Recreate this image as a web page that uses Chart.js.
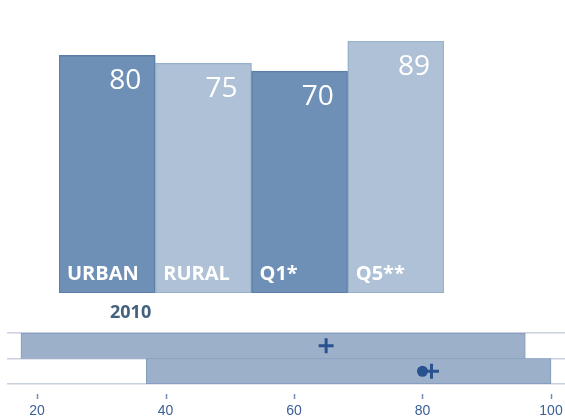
<!DOCTYPE html>
<html>
<head>
<meta charset="utf-8">
<script src="https://cdn.jsdelivr.net/npm/chart.js@4"></script>
<style>
    body { margin: 0; background: #fff; width: 565px; height: 416px; overflow: hidden; }
    canvas { position: absolute; left: 0; }
    #barChart { top: 0; }
    #rangeChart { top: 320px; }
</style>
</head>
<body>
<canvas id="barChart" width="565" height="320"></canvas>
<canvas id="rangeChart" width="565" height="96"></canvas>
<script>
// Top bars
const categories = ['URBAN', 'RURAL', 'Q1*', 'Q5**'];
const values = [80, 75, 70, 89];
const yearLabel = '2010';

// Bottom range strip
const rangeRows = ['row1', 'row2'];
const rangeLow = [17.5, 37];
const rangeHigh = [96, 100];
const crossRows = ['row1', 'row2'];
const crossValues = [65, 81.4];
const dotRows = ['row2'];
const dotValues = [80];
const xTicks = [20, 40, 60, 80, 100];

const dark = '#6e8fb6', darkEdge = '#5b7da7';
const light = '#aec1d6', lightEdge = '#99b0cb';
const barFloor = -70;

// value + category text inside the bars
const barLabels = {
    id: 'barLabels',
    afterDatasetsDraw(chart) {
        const ctx = chart.ctx;
        const meta = chart.getDatasetMeta(0);
        ctx.save();
        ctx.fillStyle = '#fff';
        meta.data.forEach((bar, i) => {
            const left = bar.x - bar.width / 2, right = bar.x + bar.width / 2;
            ctx.font = '28px "Open Sans"';
            ctx.textAlign = 'right';
            ctx.textBaseline = 'alphabetic';
            ctx.fillText(values[i], right - 14, bar.y + 34);
            ctx.font = 'bold 20px "Open Sans"';
            ctx.textAlign = 'left';
            ctx.fillText(categories[i], left + 8, bar.base - 13);
        });
        // year under the first bar
        ctx.fillStyle = '#44627f';
        ctx.font = 'bold 18px "Open Sans"';
        ctx.textAlign = 'left';
        ctx.fillText(yearLabel, 110, 318);
        ctx.restore();
    }
};

new Chart(document.getElementById('barChart'), {
    type: 'bar',
    data: {
        labels: categories,
        datasets: [{
            data: values,
            base: barFloor,
            backgroundColor: values.map((_, i) => i % 2 ? light : dark),
            borderColor: values.map((_, i) => i % 2 ? lightEdge : darkEdge),
            borderWidth: 1.5,
            borderSkipped: false,
            categoryPercentage: 1,
            barPercentage: 1
        }]
    },
    options: {
        responsive: false,
        animation: false,
        layout: { padding: { left: 59, right: 121, top: 41, bottom: 27 } },
        plugins: { legend: { display: false }, tooltip: { enabled: false } },
        scales: {
            x: { display: false },
            y: { display: false, min: barFloor, max: 89 }
        }
    },
    plugins: [barLabels]
});

// little tick marks floating between the strip and the labels
const tickMarks = {
    id: 'tickMarks',
    afterDraw(chart) {
        const ctx = chart.ctx, sx = chart.scales.x;
        ctx.save();
        ctx.strokeStyle = '#6f8db5';
        ctx.lineWidth = 1.5;
        xTicks.forEach(v => {
            const px = Math.round(sx.getPixelForValue(v)) + 0.5;
            ctx.beginPath();
            ctx.moveTo(px, 74);
            ctx.lineTo(px, 79);
            ctx.stroke();
        });
        ctx.restore();
    }
};

new Chart(document.getElementById('rangeChart'), {
    type: 'bar',
    data: {
        labels: rangeRows,
        datasets: [
            {
                type: 'scatter',
                data: dotRows.map((r, i) => ({ x: dotValues[i], y: r })),
                pointStyle: 'circle',
                radius: 5.5,
                backgroundColor: '#2a5290',
                borderColor: '#2a5290',
                borderWidth: 0,
                order: 1
            },
            {
                type: 'scatter',
                data: crossRows.map((r, i) => ({ x: crossValues[i], y: r })),
                pointStyle: 'cross',
                radius: 7.5,
                borderColor: '#2a5290',
                borderWidth: 3,
                order: 0
            },
            {
                type: 'bar',
                data: rangeRows.map((_, i) => [rangeLow[i], rangeHigh[i]]),
                backgroundColor: '#9db0c9',
                borderColor: '#8099bc',
                borderWidth: 1,
                borderSkipped: false,
                categoryPercentage: 1,
                barPercentage: 1,
                order: 2
            }
        ]
    },
    options: {
        indexAxis: 'y',
        responsive: false,
        animation: false,
        layout: { autoPadding: false, padding: { left: 7, right: 0, top: 13, bottom: 0 } },
        plugins: { legend: { display: false }, tooltip: { enabled: false } },
        scales: {
            x: {
                type: 'linear',
                min: 15.33,
                max: 102.18,
                afterBuildTicks: axis => { axis.ticks = xTicks.map(v => ({ value: v })); },
                afterFit: scale => {
                    scale.height = 32;
                    scale.paddingLeft = 0;
                    scale.paddingRight = 0;
                },
                grid: { display: false },
                border: { display: false },
                ticks: {
                    padding: 11,
                    color: '#3b5f96',
                    font: { family: '"Liberation Sans", Arial, sans-serif', size: 14 }
                }
            },
            y: {
                type: 'category',
                grid: { offset: true, color: '#c9d2de', lineWidth: 1.5, drawTicks: false },
                border: { display: false },
                ticks: { display: false }
            }
        }
    },
    plugins: [tickMarks]
});
</script>
</body>
</html>
